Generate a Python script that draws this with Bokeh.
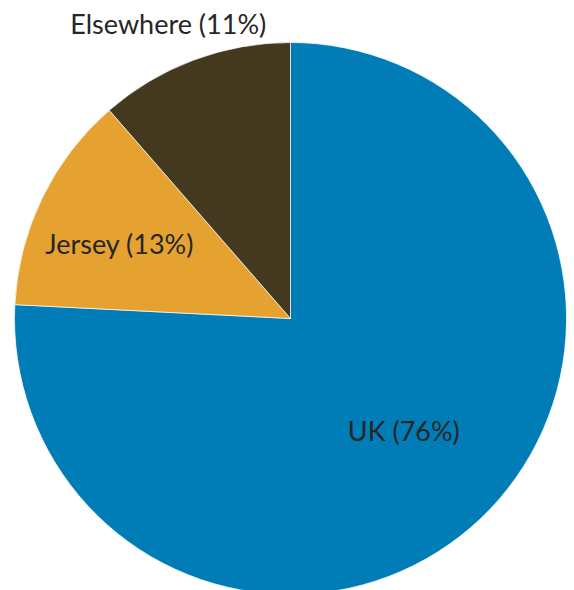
import math
from bokeh.plotting import figure
from bokeh.models import ColumnDataSource, Range1d
from bokeh.core.properties import value
from bokeh.embed import file_html
from bokeh.resources import INLINE

# Data
categories = ["UK", "Jersey", "Elsewhere"]
shares = [75.8, 12.8, 11.4]
labels = ["UK (76%)", "Jersey (13%)", "Elsewhere (11%)"]
colors = ["#007DB6", "#E5A230", "#44381E"]

# Label layout: radius fraction and pixel nudges (x right, y up)
label_radius = [0.58, 0.68, 1.15]
label_dx = [3, -2, -11]
label_dy = [4, -7, -2]

W, H = 574, 590
cx, cy, R = 290, 272, 276

total = sum(shares)
starts, ends, lx, ly = [], [], [], []
a = math.pi / 2
for s, lr, dx, dy in zip(shares, label_radius, label_dx, label_dy):
    sweep = 2 * math.pi * s / total
    starts.append(a)
    ends.append(a - sweep)
    mid = a - sweep / 2
    lx.append(cx + lr * R * math.cos(mid) + dx)
    ly.append(cy + lr * R * math.sin(mid) + dy)
    a -= sweep

src = ColumnDataSource(dict(cat=categories, start=starts, end=ends, color=colors,
                            label=labels, lx=lx, ly=ly))

p = figure(width=W, height=H, output_backend="svg", toolbar_location=None,
           x_range=Range1d(0, W), y_range=Range1d(0, H), min_border=0,
           match_aspect=False)
p.axis.visible = False
p.grid.visible = False
p.outline_line_color = None
p.background_fill_color = "white"
p.border_fill_color = "white"

p.wedge(x=cx, y=cy, radius=R, radius_units="data", start_angle="start", end_angle="end",
        direction="clock", fill_color="color", line_color="white", line_width=0.7,
        source=src)
p.text(x="lx", y="ly", text="label", source=src, text_align="center",
       text_baseline="middle", text_font=value("Lato"), text_font_size="27px",
       text_color="#262626")

open("out.html", "w").write(file_html(p, INLINE))
